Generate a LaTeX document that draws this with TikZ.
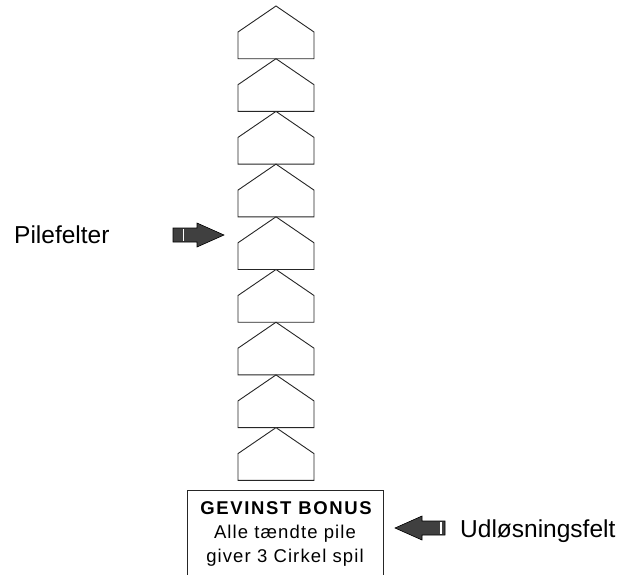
\documentclass[tikz,border=0pt]{standalone}
\usepackage{fontspec}
\setmainfont{Liberation Sans}
\newfontfamily\boxfont[LetterSpace=6]{Liberation Sans}
\newfontfamily\boxboldfont[LetterSpace=9]{Liberation Sans}
\begin{document}
\begin{tikzpicture}[x=1pt,y=-1pt,line join=miter]
\tikzset{
  penta/.style={draw=black!85, line width=0.9pt, fill=white},
  blockarrow/.style={draw=black, line width=0.6pt, fill=black!75},
  notch/.style={draw=white, line width=1.1pt},
  boxline/.style={draw=black!85, line width=0.9pt},
  lbl/.style={inner sep=0pt, font=\fontsize{24.5}{29}\selectfont},
  boxtxt/.style={inner sep=0pt, anchor=base, font=\boxfont\fontsize{18.5}{22}\selectfont},
}
\useasboundingbox (0,0) rectangle (633,574);
% stack of arrow fields
\foreach \k in {0,...,8} {
  \pgfmathsetmacro\t{6+52.7*\k}
  \draw[penta] (238,\t+26) -- (276,\t) -- (314,\t+26) -- (314,\t+52.7) -- (238,\t+52.7) -- cycle;
}
% bonus box (bottom edge outside the picture)
\draw[boxline] (187,575) -- (187,490) -- (383,490) -- (383,575);
\node[boxtxt, font=\boxboldfont\bfseries\fontsize{18.5}{22}\selectfont] (l1) at (286,514) {GEVINST BONUS};
\node[boxtxt] (l2) at (285,538) {Alle tændte pile};
\node[boxtxt] (l3) at (285,562) {giver 3 Cirkel spil};
% label Pilefelter with arrow
\node[lbl, anchor=base west] (pil) at (14,243) {Pilefelter};
\draw[blockarrow] (173,228) -- (197,228) -- (197,223) -- (224,235) -- (197,247) -- (197,242) -- (173,242) -- cycle;
\draw[notch] (183.5,229) -- (183.5,241);
% label Udløsningsfelt with arrow
\node[lbl, anchor=base west] (udl) at (460,537) {Udløsningsfelt};
\draw[blockarrow] (445,521) -- (422,521) -- (422,516) -- (395,528) -- (422,540) -- (422,535) -- (445,535) -- cycle;
\draw[notch] (441,522) -- (441,534);
\end{tikzpicture}
\end{document}
